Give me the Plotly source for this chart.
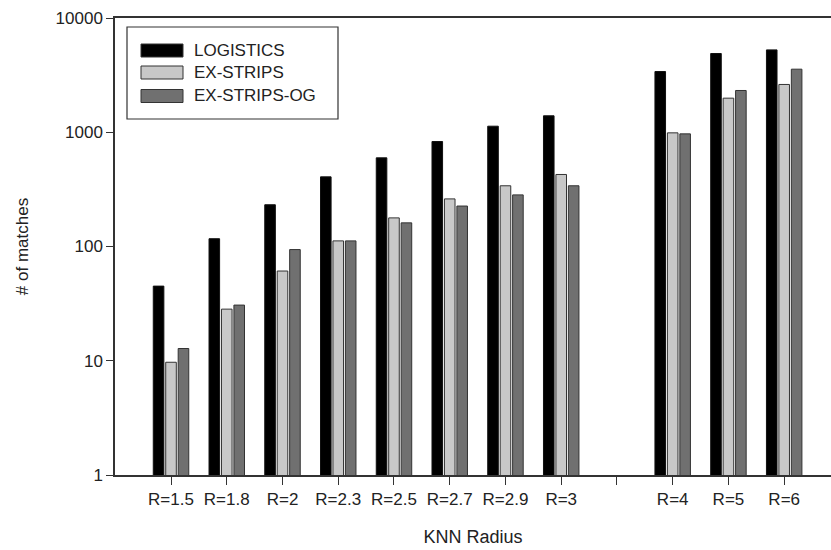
import plotly.graph_objects as go

categories = ["R=1.5", "R=1.8", "R=2", "R=2.3", "R=2.5", "R=2.7", "R=2.9", "R=3", "R=4", "R=5", "R=6"]
axis_order = ["R=1.5", "R=1.8", "R=2", "R=2.3", "R=2.5", "R=2.7", "R=2.9", "R=3", " ", "R=4", "R=5", "R=6"]
logistics = [45, 117, 232, 407, 597, 830, 1130, 1393, 3400, 4890, 5260]
ex_strips = [9.7, 28.3, 61, 112, 178, 261, 340, 427, 988, 1988, 2620]
ex_strips_og = [12.8, 30.7, 94, 112, 161, 226, 283, 340, 968, 2320, 3565]
series_names = ["LOGISTICS", "EX-STRIPS", "EX-STRIPS-OG"]
y_ticks = [1, 10, 100, 1000, 10000]

colors = ["#000000", "#c8c8c8", "#707070"]
outline = ["#111111", "#333333", "#333333"]
FONT = "Liberation Sans, Arial, sans-serif"

fig = go.Figure()
for name, vals, c, oc in zip(series_names, [logistics, ex_strips, ex_strips_og], colors, outline):
    fig.add_trace(go.Bar(x=categories, y=vals, name=name, marker=dict(color=c, line=dict(color=oc, width=1)),
                         showlegend=False))

W, H = 831, 550
L, R, T, B = 115, 0, 18, 75
pw, ph = W - L - R, H - T - B

def px_x(x):
    return (x - L) / pw

def px_y(y):
    return (H - B - y) / ph

shapes = []
annotations = []
# legend box
shapes.append(dict(type="rect", xref="paper", yref="paper", x0=px_x(127), x1=px_x(338), y0=px_y(119), y1=px_y(27),
                   line=dict(color="#333333", width=1.2), fillcolor="white"))
row_centers = [50.5, 72.5, 96]
for name, c, rc in zip(series_names, colors, row_centers):
    shapes.append(dict(type="rect", xref="paper", yref="paper", x0=px_x(141), x1=px_x(183),
                       y0=px_y(rc + 6.5), y1=px_y(rc - 6.5), line=dict(color="#333333", width=1), fillcolor=c))
    annotations.append(dict(xref="paper", yref="paper", x=px_x(192), y=px_y(rc), text=name, showarrow=False,
                            xanchor="left", yanchor="middle", font=dict(family=FONT, size=17, color="#222222")))

fig.update_layout(
    width=W, height=H,
    margin=dict(l=L, r=R, t=T, b=B),
    paper_bgcolor="white", plot_bgcolor="white",
    barmode="group", bargap=0.33, bargroupgap=0.15,
    font=dict(family=FONT, size=17, color="#222222"),
    shapes=shapes, annotations=annotations,
    xaxis=dict(type="category", categoryorder="array", categoryarray=axis_order,
               range=[-1.005, 11.84], showgrid=False, showline=True, linecolor="#333333", linewidth=1.5,
               mirror=True, ticks="outside", ticklen=8, tickcolor="#333333", tickwidth=1.2,
               tickfont=dict(family=FONT, size=17, color="#222222"),
               title=dict(text="KNN Radius", font=dict(family=FONT, size=18, color="#222222"), standoff=22)),
    yaxis=dict(type="log", range=[0, 4], tickvals=y_ticks, ticktext=[str(v) for v in y_ticks],
               showgrid=False, showline=True, linecolor="#333333", linewidth=1.5, zeroline=False,
               ticks="outside", ticklen=7, tickcolor="#333333", tickwidth=1.2,
               tickfont=dict(family=FONT, size=17, color="#222222"),
               title=dict(text="# of matches", font=dict(family=FONT, size=17, color="#222222"), standoff=23)),
)

fig.write_html("out.html", config={"displayModeBar": False},
               post_script="document.body.style.margin='0';document.body.style.padding='0';")
